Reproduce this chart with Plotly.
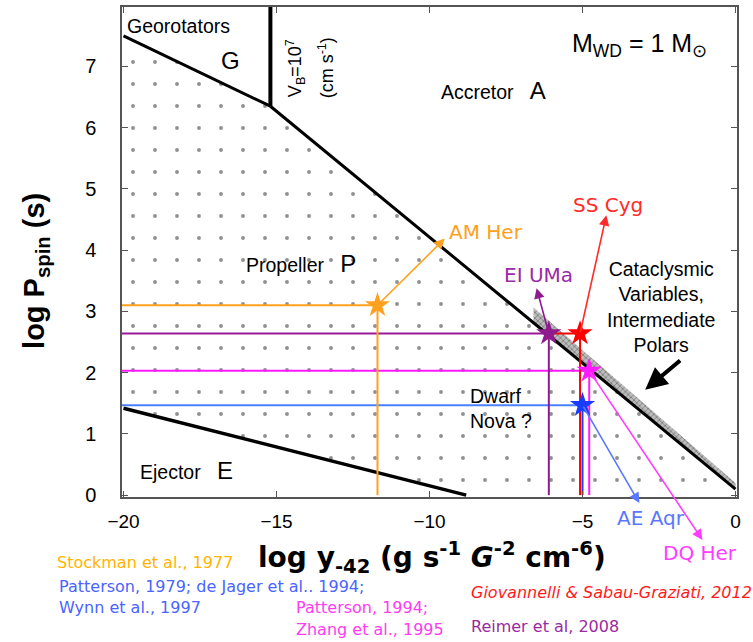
import plotly.graph_objects as go

# ---- boundaries of the spin-period / accretion-rate plane (M_WD = 1 Msun) ----
georotator_x = [-20.0, -15.2]        # Georotator / Propeller boundary
georotator_y = [7.50, 6.35]
accretor_x = [-15.2, 0.0]            # Accretor / Propeller boundary
accretor_y = [6.35, 0.10]
vb_line_x = [-15.2, -15.2]           # V_B = 10^7 cm/s boundary
vb_line_y = [6.35, 7.97]
ejector_x = [-20.0, -8.8]            # Ejector / Propeller boundary
ejector_y = [1.42, 0.0]

# hatched band of cataclysmic variables / intermediate polars along the accretor line
cv_band_x = [-6.6, 0.0]
cv_band_width = [0.25, 0.10]

# ---- individual objects ----
objects = ["AM Her", "EI UMa", "SS Cyg", "DQ Her", "AE Aqr"]
obj_logy = [-11.7, -6.1, -5.08, -4.78, -5.0]
obj_logp = [3.10, 2.64, 2.64, 2.03, 1.47]
obj_color = ["#ffa01e", "#8e1a8e", "#ff0000", "#ff1aff", "#1a3cff"]
hline_color = ["#ffa01e", "#9a1a9a", "#ff0000", "#ff1aff", "#4a80ff"]
label_color = ["#ffa01e", "#9a2aa8", "#ff2a2a", "#ff3cff", "#5a78ff"]
# where each identification arrow points / where its label sits
arrow_x = [-9.5, -6.5, -4.22, -1.08, -3.14]
arrow_y = [4.19, 3.38, 4.57, -0.73, -0.13]
label_x = [-8.15, -6.45, -4.15, -1.15, -2.75]
label_y = [4.30, 3.60, 4.74, -0.94, -0.38]

# ---- references ----
refs = [
    ("Stockman et al., 1977", "#ffb400", 55, 563, False),
    ("Patterson, 1979; de Jager et al.. 1994;", "#4a64ff", 57, 587, False),
    ("Wynn et al., 1997", "#4a64ff", 57, 608, False),
    ("Patterson, 1994;", "#ff3cf0", 294, 608, False),
    ("Zhang et al., 1995", "#ff3cf0", 294, 630, False),
    ("Giovannelli &amp; Sabau-Graziati, 2012", "#ff1a1a", 469, 593, True),
    ("Reimer et al, 2008", "#9a2aa0", 469, 627, False),
]

W, H = 753, 642
ML, MR, MT, MB = 122, 16, 5, 145
XR = [-20.05, 0.05]
YR = [-0.03, 7.97]


def acc_line(x):
    s = (accretor_y[1] - accretor_y[0]) / (accretor_x[1] - accretor_x[0])
    return accretor_y[0] + s * (x - accretor_x[0])


def paper(px, py):
    return (px - ML) / (W - ML - MR), (H - MB - py) / (H - MT - MB)


def data_to_paper(x, y):
    return (x - XR[0]) / (XR[1] - XR[0]), (y - YR[0]) / (YR[1] - YR[0])


fig = go.Figure()

# dotted propeller region
prop_x = georotator_x + accretor_x[1:] + [accretor_x[1], ejector_x[1]] + ejector_x[:1]
prop_y = georotator_y + accretor_y[1:] + [ejector_y[1], ejector_y[1]] + ejector_y[:1]
fig.add_trace(go.Scatter(
    x=prop_x, y=prop_y, fill="toself", mode="none",
    fillcolor="rgba(0,0,0,0)",
    fillpattern=dict(shape=".", fgcolor="#222", bgcolor="rgba(0,0,0,0)",
                     size=22, solidity=0.025),
    hoverinfo="skip", showlegend=False))

# hatched CV band
bx0, bx1 = cv_band_x
band_x = [bx0, bx1, bx1, bx0]
band_y = [acc_line(bx0), acc_line(bx1),
          acc_line(bx1) + cv_band_width[1], acc_line(bx0) + cv_band_width[0]]
fig.add_trace(go.Scatter(
    x=band_x, y=band_y, fill="toself", mode="none",
    fillcolor="#b0b0b0",
    fillpattern=dict(shape="x", fgcolor="#444", bgcolor="#bdbdbd", size=4, solidity=0.4),
    hoverinfo="skip", showlegend=False))

# region boundaries
for bx, by, w in [(georotator_x, georotator_y, 3), (accretor_x, accretor_y, 3),
                  (vb_line_x, vb_line_y, 4), (ejector_x, ejector_y, 3.5)]:
    fig.add_trace(go.Scatter(x=bx, y=by, mode="lines", line=dict(color="black", width=w),
                             hoverinfo="skip", showlegend=False))

# guide lines from each object to the axes; a guide that would run under
# another object's guide at the same level starts at that object instead
for i in range(len(objects)):
    x_start = XR[0]
    for j in range(len(objects)):
        if j != i and obj_logp[j] == obj_logp[i] and obj_logy[j] < obj_logy[i]:
            x_start = max(x_start, obj_logy[j])
    fig.add_trace(go.Scatter(x=[x_start, obj_logy[i]], y=[obj_logp[i], obj_logp[i]],
                             mode="lines", line=dict(color=hline_color[i], width=2),
                             hoverinfo="skip", showlegend=False))
for i in range(len(objects)):
    fig.add_trace(go.Scatter(x=[obj_logy[i], obj_logy[i]], y=[obj_logp[i], 0],
                             mode="lines", line=dict(color=obj_color[i], width=2),
                             hoverinfo="skip", showlegend=False))

# object stars
fig.add_trace(go.Scatter(x=obj_logy, y=obj_logp, mode="markers",
                         marker=dict(symbol="star", size=19, color=obj_color,
                                     line=dict(width=0)),
                         text=objects, hoverinfo="text", showlegend=False))

ann = []
for i, name in enumerate(objects):
    ann.append(dict(x=arrow_x[i], y=arrow_y[i], ax=obj_logy[i], ay=obj_logp[i],
                    xref="x", yref="y", axref="x", ayref="y", text="",
                    showarrow=True, arrowhead=2, arrowsize=1.3, arrowwidth=1.6,
                    arrowcolor=label_color[i] if i != 1 else obj_color[i]))
    lx, ly = data_to_paper(label_x[i], label_y[i])
    ann.append(dict(x=lx, y=ly, xref="paper", yref="paper", text=name,
                    xanchor="center", yanchor="middle",
                    showarrow=False, font=dict(family="DejaVu Sans", size=20,
                                               color=label_color[i])))

# region labels
txt = dict(family="Liberation Sans", color="black")
gap = "&nbsp;&nbsp;&nbsp;"
big = "<span style='font-size:24px'>{}</span>"
regions = [
    dict(x=-18.2, y=7.66, text="Georotators", font=dict(size=19.5, **txt)),
    dict(x=-16.5, y=7.1, text="G", font=dict(size=24, **txt)),
    dict(x=-14.38, y=6.98, text="V<sub>B</sub>=10<sup>7</sup>", textangle=-90,
         font=dict(size=18, **txt)),
    dict(x=-13.38, y=6.97, text="(cm s<sup>-1</sup>)", textangle=-90,
         font=dict(size=18, **txt)),
    dict(x=-3.15, y=7.35, text="M<sub>WD</sub> = 1 M<sub>\u2299</sub>",
         font=dict(size=25, **txt)),
    dict(x=-7.9, y=6.6, text="Accretor" + gap + big.format("A"),
         font=dict(size=19.5, **txt)),
    dict(x=-14.2, y=3.78, text="Propeller" + gap + big.format("P"),
         font=dict(size=19.5, **txt)),
    dict(x=-17.95, y=0.4, text="Ejector" + gap + big.format("E"),
         font=dict(size=19.5, **txt)),
    dict(x=-8.75, y=1.42, xanchor="left", align="left", text="Dwarf<br>Nova ?",
         font=dict(size=19.5, **txt)),
    dict(x=-2.42, y=3.08, text="Cataclysmic<br>Variables,<br>Intermediate<br>Polars",
         align="center", font=dict(size=19.5, **txt)),
]
for a in regions:
    a.update(xref="x", yref="y", showarrow=False)
ann += regions

# thick black arrow pointing at the CV band
ann.append(dict(x=-2.95, y=1.72, ax=-1.76, ay=2.22, xref="x", yref="y",
                axref="x", ayref="y", text="", showarrow=True, arrowhead=2,
                arrowsize=1.1, arrowwidth=4, arrowcolor="black"))

# axis titles
tx, ty = paper(36, 270)
ann.append(dict(x=tx, y=ty, xref="paper", yref="paper", textangle=-90, showarrow=False,
                xanchor="center", yanchor="middle",
                text="<b>log P<sub>spin</sub> (s)</b>",
                font=dict(family="Liberation Sans", size=29, color="black")))
tx, ty = paper(432, 558)
ann.append(dict(x=tx, y=ty, xref="paper", yref="paper", xanchor="center",
                yanchor="middle", showarrow=False,
                text="<b>log y<sub>-42</sub> (g s<sup>-1</sup> <i>G</i><sup>-2</sup> cm<sup>-6</sup>)</b>",
                font=dict(family="DejaVu Sans", size=28, color="black")))

# references
for text, col, px, py, ital in refs:
    rx, ry = paper(px, py)
    ann.append(dict(x=rx, y=ry, xref="paper", yref="paper", xanchor="left",
                    yanchor="middle", showarrow=False,
                    text=f"<i>{text}</i>" if ital else text,
                    font=dict(family="DejaVu Sans", size=16, color=col)))

fig.update_layout(
    width=W, height=H,
    margin=dict(l=ML, r=MR, t=MT, b=MB),
    plot_bgcolor="white", paper_bgcolor="white",
    annotations=ann,
    xaxis=dict(range=XR, tickvals=[-20, -15, -10, -5, 0], ticks="inside", ticklen=6,
               tickcolor="#555", showgrid=False, zeroline=False, showline=True,
               linecolor="#555", linewidth=1.5, mirror="ticks", ticklabelstandoff=6,
               tickfont=dict(family="Liberation Sans", size=19, color="black")),
    yaxis=dict(range=YR, tickvals=list(range(0, 8)), ticks="inside", ticklen=6,
               tickcolor="#555", showgrid=False, zeroline=False, showline=True,
               linecolor="#555", linewidth=1.5, mirror="ticks", ticklabelstandoff=20,
               tickfont=dict(family="Liberation Sans", size=20, color="black")),
)

fig.write_html("out.html")
